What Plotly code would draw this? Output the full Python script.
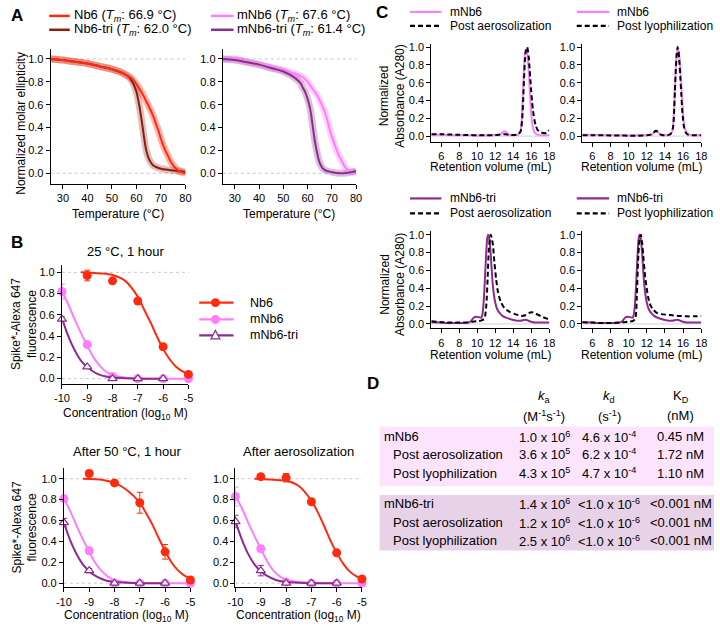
import plotly.graph_objects as go

W, H = 720, 630
FONT = "Liberation Sans, Arial, sans-serif"

RED = "#ff2b0f"
DARKRED = "#8a1d12"
PINK = "#ff7dff"
PURPLE = "#8e2b90"

# ---------------- Panel A: thermal melts ----------------
a_temp_nb6 = [25, 30, 35, 40, 45, 50, 55, 58, 60, 62, 64, 66, 67, 68, 69, 70, 71, 72, 73, 74, 75, 76, 77, 78, 79, 80]
a_val_nb6 = [1.0, 0.99, 0.975, 0.96, 0.935, 0.91, 0.87, 0.83, 0.78, 0.71, 0.63, 0.54, 0.49, 0.43, 0.37, 0.30, 0.24, 0.19, 0.145, 0.10, 0.07, 0.045, 0.025, 0.012, 0.005, 0.0]
a_temp_nb6tri = [25, 30, 35, 40, 45, 50, 55, 57, 58, 59, 60, 61, 62, 63, 64, 65, 66, 67, 68, 70, 72, 75, 78, 80]
a_val_nb6tri = [1.0, 0.99, 0.975, 0.96, 0.935, 0.91, 0.87, 0.84, 0.81, 0.77, 0.71, 0.61, 0.48, 0.33, 0.20, 0.13, 0.09, 0.066, 0.055, 0.04, 0.032, 0.025, 0.018, 0.012]
a_temp_mnb6 = [25, 30, 35, 40, 45, 50, 55, 58, 60, 62, 64, 66, 67, 68, 69, 70, 71, 72, 73, 74, 75, 76, 77, 78, 80]
a_val_mnb6 = [0.995, 1.0, 0.975, 0.95, 0.925, 0.90, 0.87, 0.84, 0.80, 0.74, 0.68, 0.59, 0.54, 0.47, 0.39, 0.32, 0.26, 0.20, 0.15, 0.11, 0.07, 0.04, 0.02, 0.01, 0.01]
a_temp_mnb6tri = [25, 30, 35, 40, 45, 50, 55, 57, 58, 59, 60, 61, 62, 63, 64, 65, 66, 67, 68, 70, 73, 76, 78, 80]
a_val_mnb6tri = [1.0, 0.99, 0.97, 0.95, 0.92, 0.89, 0.83, 0.79, 0.75, 0.71, 0.65, 0.57, 0.43, 0.28, 0.17, 0.09, 0.05, 0.03, 0.02, 0.01, 0.0, 0.003, 0.01, 0.02]
a_xticks = [30, 40, 50, 60, 70, 80]
a_yticks = [0.0, 0.2, 0.4, 0.6, 0.8, 1.0]

# ---------------- Panel B: binding assays ----------------
b_conc = [-10, -9, -8, -7, -6, -5]
b_tick_text = ["-10", "-9", "-8", "-7", "-6", "-5"]
b_conc_nb6 = [-9, -8, -7, -6, -5]
b_conc_tri = [-10, -9, -8, -7, -6]

b25_nb6 = [0.97, 0.92, 0.73, 0.30, 0.04]
b25_nb6_err = [0.05, 0.01, 0.01, 0.02, 0.01]
b25_mnb6 = [0.82, 0.32, 0.02, 0.0, 0.0, 0.0]
b25_mnb6_err = [0.07, 0.02, 0.0, 0.0, 0.0, 0.0]
b25_tri = [0.56, 0.11, 0.0, 0.0, 0.0]
b25_tri_err = [0.02, 0.01, 0.0, 0.0, 0.0]

b50_nb6 = [1.05, 0.96, 0.77, 0.30, 0.03]
b50_nb6_err = [0.03, 0.01, 0.10, 0.07, 0.01]
b50_mnb6 = [0.81, 0.31, 0.0, 0.0, 0.0, 0.0]
b50_mnb6_err = [0.01, 0.01, 0.0, 0.0, 0.0, 0.0]
b50_tri = [0.58, 0.12, 0.0, 0.0, 0.0]
b50_tri_err = [0.04, 0.02, 0.0, 0.0, 0.0]

baero_nb6 = [1.02, 1.01, 0.78, 0.29, 0.04]
baero_nb6_err = [0.01, 0.04, 0.01, 0.01, 0.01]
baero_mnb6 = [0.83, 0.33, 0.01, 0.0, 0.0, 0.0]
baero_mnb6_err = [0.09, 0.03, 0.0, 0.0, 0.0, 0.0]
baero_tri = [0.59, 0.12, 0.0, 0.0, 0.0]
baero_tri_err = [0.06, 0.05, 0.0, 0.0, 0.0]

fit_x_nb6 = [-9.25, -9.0, -8.5, -8.0, -7.5, -7.0, -6.75, -6.5, -6.25, -6.0, -5.75, -5.5, -5.25, -5.0]
b25_nb6_fit = [1.0, 0.998, 0.99, 0.975, 0.92, 0.77, 0.65, 0.53, 0.40, 0.28, 0.185, 0.115, 0.07, 0.04]
b50_nb6_fit = [1.0, 0.998, 0.99, 0.96, 0.89, 0.77, 0.67, 0.56, 0.43, 0.31, 0.20, 0.125, 0.075, 0.045]
baero_nb6_fit = [1.0, 0.998, 0.99, 0.98, 0.93, 0.79, 0.68, 0.55, 0.41, 0.29, 0.19, 0.115, 0.07, 0.04]
fit_x_mnb6 = [-10, -9.75, -9.5, -9.25, -9.0, -8.75, -8.5, -8.25, -8.0, -7.5, -7.0, -6.5, -6.0, -5.5, -5.0]
b25_mnb6_fit = [0.82, 0.70, 0.56, 0.43, 0.31, 0.20, 0.12, 0.065, 0.035, 0.01, 0.003, 0.0, 0.0, 0.0, 0.0]
b50_mnb6_fit = [0.81, 0.69, 0.55, 0.42, 0.30, 0.19, 0.115, 0.06, 0.03, 0.008, 0.002, 0.0, 0.0, 0.0, 0.0]
baero_mnb6_fit = [0.83, 0.72, 0.58, 0.45, 0.33, 0.21, 0.12, 0.065, 0.035, 0.01, 0.003, 0.0, 0.0, 0.0, 0.0]
fit_x_tri = [-10, -9.75, -9.5, -9.25, -9.0, -8.75, -8.5, -8.25, -8.0, -7.5, -7.0, -6.5, -6.0]
b25_tri_fit = [0.57, 0.40, 0.27, 0.17, 0.11, 0.065, 0.035, 0.02, 0.01, 0.003, 0.0, 0.0, 0.0]
b50_tri_fit = [0.58, 0.41, 0.28, 0.18, 0.115, 0.07, 0.04, 0.02, 0.01, 0.003, 0.0, 0.0, 0.0]
baero_tri_fit = [0.59, 0.42, 0.28, 0.18, 0.115, 0.07, 0.04, 0.02, 0.01, 0.003, 0.0, 0.0, 0.0]
b_yticks = [0.0, 0.2, 0.4, 0.6, 0.8, 1.0]

# ---------------- Panel C: SEC traces ----------------
c_mnb6_x = [4.9, 6, 7, 8, 9, 10, 11, 12, 12.5, 12.8, 13.0, 13.2, 13.5, 14.0, 14.5, 14.8, 14.9, 15.0, 15.1, 15.2, 15.3, 15.45, 15.55, 15.7, 15.8, 15.9, 16.0, 16.1, 16.25, 16.4, 16.6, 17.0, 17.5, 18.0]
c_mnb6_y = [0.015, 0.015, 0.012, 0.01, 0.01, 0.008, 0.01, 0.01, 0.015, 0.04, 0.055, 0.045, 0.015, 0.01, 0.015, 0.05, 0.12, 0.30, 0.55, 0.78, 0.93, 0.97, 0.93, 0.75, 0.58, 0.40, 0.24, 0.14, 0.07, 0.035, 0.02, 0.01, 0.01, 0.01]
c_aero_x = [4.9, 6, 7, 8, 9, 10, 11, 12, 13, 13.5, 14, 14.5, 14.8, 14.9, 15.0, 15.1, 15.2, 15.3, 15.4, 15.55, 15.7, 15.8, 15.9, 16.0, 16.1, 16.2, 16.35, 16.5, 16.7, 17.0, 17.3, 17.6, 17.8, 18.0]
c_aero_y = [0.02, 0.02, 0.018, 0.015, 0.012, 0.01, 0.01, 0.012, 0.02, 0.015, 0.012, 0.02, 0.05, 0.10, 0.20, 0.40, 0.65, 0.85, 0.96, 1.0, 0.90, 0.78, 0.64, 0.50, 0.38, 0.28, 0.18, 0.12, 0.07, 0.045, 0.035, 0.035, 0.05, 0.065]
c_lyo_x = [4.9, 6, 7, 8, 9, 10, 11, 12, 12.5, 12.8, 13.0, 13.2, 13.5, 13.8, 14.2, 14.6, 14.9, 15.0, 15.1, 15.2, 15.3, 15.4, 15.5, 15.6, 15.7, 15.8, 15.9, 16.0, 16.1, 16.25, 16.4, 16.6, 17.0, 17.5, 18.0]
c_lyo_y = [0.01, 0.01, 0.01, 0.008, 0.006, 0.005, 0.005, 0.01, 0.02, 0.045, 0.06, 0.05, 0.02, 0.01, 0.01, 0.02, 0.10, 0.25, 0.50, 0.75, 0.92, 1.0, 0.95, 0.82, 0.65, 0.47, 0.30, 0.18, 0.10, 0.05, 0.025, 0.015, 0.01, 0.01, 0.01]
c_tri_x = [4.9, 6, 7, 8, 9, 9.3, 9.6, 9.9, 10.2, 10.45, 10.6, 10.75, 10.9, 11.0, 11.1, 11.2, 11.3, 11.4, 11.5, 11.6, 11.7, 11.85, 12.0, 12.2, 12.5, 12.8, 13.2, 14.0, 14.8, 15.2, 15.5, 15.8, 16.2, 17.0, 18.0]
c_tri_y = [0.02, 0.015, 0.01, 0.01, 0.015, 0.03, 0.07, 0.08, 0.075, 0.07, 0.12, 0.30, 0.60, 0.80, 0.95, 1.0, 0.98, 0.90, 0.78, 0.62, 0.47, 0.33, 0.24, 0.17, 0.12, 0.09, 0.07, 0.045, 0.035, 0.045, 0.045, 0.03, 0.02, 0.015, 0.015]
c_tri_aero_x = [4.9, 6, 7, 8, 9, 9.5, 10, 10.5, 10.8, 11.0, 11.15, 11.3, 11.5, 11.6, 11.75, 11.9, 12.1, 12.3, 12.6, 13.0, 13.5, 14.2, 15.0, 15.4, 15.8, 16.1, 16.4, 16.8, 17.2, 17.6, 18.0]
c_tri_aero_y = [0.03, 0.02, 0.015, 0.015, 0.02, 0.025, 0.03, 0.04, 0.06, 0.20, 0.50, 0.85, 1.0, 0.97, 0.88, 0.70, 0.50, 0.36, 0.25, 0.18, 0.14, 0.11, 0.09, 0.10, 0.125, 0.13, 0.12, 0.10, 0.08, 0.065, 0.05]
c_tri_lyo_x = [4.9, 6, 7, 8, 9, 9.5, 10, 10.5, 10.75, 10.9, 11.05, 11.2, 11.35, 11.5, 11.65, 11.8, 11.95, 12.15, 12.4, 12.7, 13.1, 13.6, 14.6, 15.5, 16.4, 17.2, 18.0]
c_tri_lyo_y = [0.02, 0.015, 0.01, 0.01, 0.015, 0.02, 0.025, 0.035, 0.06, 0.30, 0.72, 0.95, 1.0, 0.90, 0.72, 0.55, 0.43, 0.30, 0.21, 0.16, 0.125, 0.11, 0.10, 0.09, 0.085, 0.085, 0.09]
c_xticks = [6, 8, 10, 12, 14, 16, 18]
c_yticks = [0.0, 0.2, 0.4, 0.6, 0.8, 1.0]

# ---------------- Panel D: kinetics table ----------------
d_rows = ["mNb6", "Post aerosolization", "Post lyophilization", "mNb6-tri", "Post aerosolization", "Post lyophilization"]
d_indent = [False, True, True, False, True, True]
d_ka = ["1.0 x 10<sup>6</sup>", "3.6 x 10<sup>5</sup>", "4.3 x 10<sup>5</sup>",
        "1.4 x 10<sup>6</sup>", "1.2 x 10<sup>6</sup>", "2.5 x 10<sup>6</sup>"]
d_kd = ["4.6 x 10<sup>-4</sup>", "6.2 x 10<sup>-4</sup>", "4.7 x 10<sup>-4</sup>",
        "&lt;1.0 x 10<sup>-6</sup>", "&lt;1.0 x 10<sup>-6</sup>", "&lt;1.0 x 10<sup>-6</sup>"]
d_KD = ["0.45 nM", "1.72 nM", "1.10 nM", "&lt;0.001 nM", "&lt;0.001 nM", "&lt;0.001 nM"]
d_headers = ["<i>k</i><sub>a</sub>", "<i>k</i><sub>d</sub>", "K<sub>D</sub>"]
d_units = ["(M<sup>-1</sup>s<sup>-1</sup>)", "(s<sup>-1</sup>)", "(nM)"]

# ---------------- layout helpers ----------------
def px(x):
    return x / W


def py(y):
    return 1 - y / H


fig = go.Figure()
layout = dict(width=W, height=H, autosize=False, margin=dict(l=0, r=0, t=0, b=0),
              plot_bgcolor="white", paper_bgcolor="white", showlegend=False,
              font=dict(family=FONT, color="black", size=11))
shapes = []
annotations = []


def add_axes(n, xpx, ypx, xr, yr, xtv, ytv, xtt=None, yfmt=".1f"):
    xk = "xaxis" if n == 1 else f"xaxis{n}"
    yk = "yaxis" if n == 1 else f"yaxis{n}"
    common = dict(showline=True, linecolor="black", linewidth=1, ticks="outside", ticklen=4,
                  tickwidth=1, tickcolor="black", showgrid=False, zeroline=False,
                  tickfont=dict(size=11, family=FONT, color="black"), fixedrange=True)
    xa = dict(domain=[px(xpx[0]), px(xpx[1])], range=xr, anchor="y" if n == 1 else f"y{n}",
              tickvals=xtv, **common)
    if xtt is not None:
        xa["ticktext"] = xtt
    ya = dict(domain=[py(ypx[1]), py(ypx[0])], range=yr, anchor="x" if n == 1 else f"x{n}",
              tickvals=ytv, tickformat=yfmt, **common)
    layout[xk] = xa
    layout[yk] = ya


def ref(n):
    return ("x" if n == 1 else f"x{n}"), ("y" if n == 1 else f"y{n}")


def hline(n, yv, color="#c8c8c8", dash="dot"):
    xr, yr = ref(n)
    shapes.append(dict(type="line", xref=f"{xr} domain", yref=yr, x0=0, x1=1, y0=yv, y1=yv,
                       line=dict(color=color, width=1, dash=dash), layer="below"))


def text(x, y, s, size=12, xanchor="center", yanchor="middle", angle=0, bold=False):
    if bold:
        s = f"<b>{s}</b>"
    annotations.append(dict(x=px(x), y=py(y), xref="paper", yref="paper", text=s, showarrow=False,
                            xanchor=xanchor, yanchor=yanchor, textangle=angle, borderpad=0,
                            font=dict(size=size, family=FONT, color="black")))


def leg_line(x0, x1, y, color, dash="solid", width=2.2):
    shapes.append(dict(type="line", xref="paper", yref="paper", x0=px(x0), x1=px(x1), y0=py(y), y1=py(y),
                       line=dict(color=color, width=width, dash=dash)))


# ---------------- Panel A ----------------
add_axes(1, (43.5, 181), (46, 182), [25, 80], [-0.09, 1.09], a_xticks, a_yticks)
add_axes(2, (219, 355), (46, 182), [25, 80], [-0.09, 1.09], a_xticks, a_yticks)
for n in (1, 2):
    hline(n, 1.0)
    hline(n, 0.0)


def melt(n, xs, ys, halo):
    xr, yr = ref(n)
    fig.add_trace(go.Scatter(x=xs, y=ys, xaxis=xr, yaxis=yr, mode="lines",
                             line=dict(color=halo, width=7, shape="spline"), hoverinfo="skip"))


def melt_line(n, xs, ys, color):
    xr, yr = ref(n)
    fig.add_trace(go.Scatter(x=xs, y=ys, xaxis=xr, yaxis=yr, mode="lines",
                             line=dict(color=color, width=2, shape="spline")))


melt(1, a_temp_nb6tri, a_val_nb6tri, "rgba(140,29,18,0.28)")
melt(1, a_temp_nb6, a_val_nb6, "rgba(255,43,15,0.35)")
melt_line(1, a_temp_nb6tri, a_val_nb6tri, DARKRED)
melt_line(1, a_temp_nb6, a_val_nb6, RED)
melt(2, a_temp_mnb6, a_val_mnb6, "rgba(255,125,255,0.35)")
melt(2, a_temp_mnb6tri, a_val_mnb6tri, "rgba(142,43,144,0.30)")
melt_line(2, a_temp_mnb6, a_val_mnb6, PINK)
melt_line(2, a_temp_mnb6tri, a_val_mnb6tri, PURPLE)

text(9, 13, "A", size=17, bold=True)
leg_line(42, 63, 13, RED, width=2.5)
leg_line(42, 63, 27, DARKRED, width=2.5)
text(66, 13, "Nb6 (<i>T<sub>m</sub></i>: 66.9 °C)", size=13, xanchor="left")
text(66, 27, "Nb6-tri (<i>T<sub>m</sub></i>: 62.0 °C)", size=13, xanchor="left")
leg_line(207, 230, 13, PINK, width=2.5)
leg_line(207, 230, 27, PURPLE, width=2.5)
text(233, 13, "mNb6 (<i>T<sub>m</sub></i>: 67.6 °C)", size=13, xanchor="left")
text(233, 27, "mNb6-tri (<i>T<sub>m</sub></i>: 61.4 °C)", size=13, xanchor="left")
text(13, 121, "Normalized molar ellipticity", size=12, angle=-90)
text(112, 213, "Temperature (°C)", size=12)
text(287, 213, "Temperature (°C)", size=12)

# ---------------- Panel B ----------------
add_axes(3, (55, 184), (264, 384), [-10, -5], [-0.05, 1.07], b_conc, b_yticks, b_tick_text)
add_axes(4, (57, 186), (469, 589), [-10, -5], [-0.04, 1.10], b_conc, b_yticks, b_tick_text)
add_axes(5, (232, 361), (469, 589), [-10, -5], [-0.04, 1.10], b_conc, b_yticks, b_tick_text)
for n in (3, 4, 5):
    hline(n, 1.0)
    hline(n, 0.0)


def binding(n, mnb6_fit, mnb6, mnb6_err, tri_fit, tri, tri_err, nb6_fit, nb6, nb6_err):
    xr, yr = ref(n)
    fig.add_trace(go.Scatter(x=fit_x_mnb6, y=mnb6_fit, xaxis=xr, yaxis=yr, mode="lines",
                             line=dict(color=PINK, width=2, shape="spline", smoothing=0.8)))
    fig.add_trace(go.Scatter(x=b_conc, y=mnb6, xaxis=xr, yaxis=yr, mode="markers", cliponaxis=False,
                             marker=dict(color=PINK, size=9, line=dict(width=0)),
                             error_y=dict(type="data", array=mnb6_err, color=PINK, thickness=1, width=3)))
    fig.add_trace(go.Scatter(x=fit_x_tri, y=tri_fit, xaxis=xr, yaxis=yr, mode="lines",
                             line=dict(color=PURPLE, width=2, shape="spline", smoothing=0.8)))
    fig.add_trace(go.Scatter(x=b_conc_tri, y=tri, xaxis=xr, yaxis=yr, mode="markers", cliponaxis=False,
                             marker=dict(symbol="triangle-up", color="white", size=8,
                                         line=dict(color=PURPLE, width=1.2)),
                             error_y=dict(type="data", array=tri_err, color=PURPLE, thickness=1, width=3)))
    fig.add_trace(go.Scatter(x=fit_x_nb6, y=nb6_fit, xaxis=xr, yaxis=yr, mode="lines",
                             line=dict(color=RED, width=2, shape="spline", smoothing=0.8)))
    fig.add_trace(go.Scatter(x=b_conc_nb6, y=nb6, xaxis=xr, yaxis=yr, mode="markers", cliponaxis=False,
                             marker=dict(color=RED, size=9, line=dict(width=0)),
                             error_y=dict(type="data", array=nb6_err, color=RED, thickness=1, width=3)))


binding(3, b25_mnb6_fit, b25_mnb6, b25_mnb6_err, b25_tri_fit, b25_tri, b25_tri_err,
        b25_nb6_fit, b25_nb6, b25_nb6_err)
binding(4, b50_mnb6_fit, b50_mnb6, b50_mnb6_err, b50_tri_fit, b50_tri, b50_tri_err,
        b50_nb6_fit, b50_nb6, b50_nb6_err)
binding(5, baero_mnb6_fit, baero_mnb6, baero_mnb6_err, baero_tri_fit, baero_tri, baero_tri_err,
        baero_nb6_fit, baero_nb6, baero_nb6_err)

text(9, 241, "B", size=17, bold=True)
text(120, 250, "25 °C, 1 hour", size=13)
text(121, 452, "After 50 °C, 1 hour", size=13)
text(296, 452, "After aerosolization", size=13)
text(17, 324, "Spike*-Alexa 647<br>fluorescence", size=12, angle=-90)
text(17, 529, "Spike*-Alexa 647<br>fluorescence", size=12, angle=-90)
text(120, 414, "Concentration (log<sub>10</sub> M)", size=12)
text(121, 618, "Concentration (log<sub>10</sub> M)", size=12)
text(296, 618, "Concentration (log<sub>10</sub> M)", size=12)

# B legend keys
b_leg_y = [302, 319, 335]
leg_line(195, 230, b_leg_y[0], RED)
leg_line(195, 230, b_leg_y[1], PINK)
leg_line(195, 230, b_leg_y[2], PURPLE)
for yy, col in ((b_leg_y[0], RED), (b_leg_y[1], PINK)):
    shapes.append(dict(type="circle", xref="paper", yref="paper", x0=px(207), x1=px(216),
                       y0=py(yy + 4.5), y1=py(yy - 4.5), fillcolor=col, line=dict(width=0)))
ty = b_leg_y[2]
shapes.append(dict(type="path", xref="paper", yref="paper",
                   path=f"M {px(211.5)},{py(ty - 5)} L {px(216)},{py(ty + 3.5)} L {px(207)},{py(ty + 3.5)} Z",
                   fillcolor="white", line=dict(color=PURPLE, width=1.2)))
text(246, b_leg_y[0], "Nb6", size=12.5, xanchor="left")
text(246, b_leg_y[1], "mNb6", size=12.5, xanchor="left")
text(246, b_leg_y[2], "mNb6-tri", size=12.5, xanchor="left")

# ---------------- Panel C ----------------
add_axes(6, (431.7, 552), (41.7, 140), [4.9, 18], [-0.065, 1.03], c_xticks, c_yticks)
add_axes(7, (585.7, 707), (41.7, 140), [4.9, 18], [-0.065, 1.03], c_xticks, c_yticks)
add_axes(8, (431.7, 552), (230, 328), [4.9, 18], [-0.05, 1.04], c_xticks, c_yticks)
add_axes(9, (585.7, 707), (230, 328), [4.9, 18], [-0.05, 1.04], c_xticks, c_yticks)
for n in (6, 7, 8, 9):
    hline(n, 0.0, color="#d0d0d0", dash="solid")


def sec(n, xs, ys, color, dash="solid"):
    xr, yr = ref(n)
    fig.add_trace(go.Scatter(x=xs, y=ys, xaxis=xr, yaxis=yr, mode="lines",
                             line=dict(color=color, width=2, dash=dash, shape="spline", smoothing=0.6)))


DASH = "5px,3px"
sec(6, c_mnb6_x, c_mnb6_y, PINK)
sec(6, c_aero_x, c_aero_y, "black", DASH)
sec(7, c_mnb6_x, c_mnb6_y, PINK)
sec(7, c_lyo_x, c_lyo_y, "black", DASH)
sec(8, c_tri_x, c_tri_y, PURPLE)
sec(8, c_tri_aero_x, c_tri_aero_y, "black", DASH)
sec(9, c_tri_x, c_tri_y, PURPLE)
sec(9, c_tri_lyo_x, c_tri_lyo_y, "black", DASH)

text(381, 10, "C", size=17, bold=True)
for (lx0, lx1, tx), (y1, y2), col, lab1, lab2 in (
        ((410, 442, 450), (9, 23), PINK, "mNb6", "Post aerosolization"),
        ((580, 613, 620), (9, 23), PINK, "mNb6", "Post lyophilization"),
        ((410, 442, 450), (197, 212), PURPLE, "mNb6-tri", "Post aerosolization"),
        ((580, 613, 620), (197, 212), PURPLE, "mNb6-tri", "Post lyophilization")):
    leg_line(lx0, lx1, y1, col)
    leg_line(lx0, lx1, y2, "black", dash=DASH)
    text(tx, y1, lab1, size=12, xanchor="left")
    text(tx, y2, lab2, size=12, xanchor="left")

text(392, 94, "Normalized<br>Absorbance (A280)", size=12, angle=-90)
text(392, 284, "Normalized<br>Absorbance (A280)", size=12, angle=-90)
text(492, 165, "Retention volume (mL)", size=12)
text(646, 165, "Retention volume (mL)", size=12)
text(492, 355, "Retention volume (mL)", size=12)
text(646, 355, "Retention volume (mL)", size=12)

# ---------------- Panel D ----------------
text(372, 384, "D", size=17, bold=True)
shapes.append(dict(type="rect", xref="paper", yref="paper", x0=px(379), x1=px(720), y0=py(487), y1=py(427),
                   fillcolor="#fde4fd", line=dict(width=0), layer="below"))
shapes.append(dict(type="rect", xref="paper", yref="paper", x0=px(379), x1=px(720), y0=py(552), y1=py(496),
                   fillcolor="#e8d2e8", line=dict(width=0), layer="below"))
d_col_x = [547, 613, 686]
for cx, hd, un in zip(d_col_x, d_headers, d_units):
    text(cx, 397, hd, size=13)
    text(cx, 416, un, size=13)
d_row_y = [437, 455, 474, 505, 524, 542]
for ry, lab, ind, ka, kd, KD in zip(d_row_y, d_rows, d_indent, d_ka, d_kd, d_KD):
    text(392 if ind else 382, ry, lab, size=13, xanchor="left")
    text(d_col_x[0], ry, ka, size=13)
    text(d_col_x[1], ry, kd, size=13)
    text(d_col_x[2], ry, KD, size=13)

layout["shapes"] = shapes
layout["annotations"] = annotations
fig.update_layout(**layout)
fig.write_html("out.html", config={"displayModeBar": False},
               post_script="document.body.style.margin='0';document.body.style.padding='0';"
                           "document.body.style.overflow='hidden';")
